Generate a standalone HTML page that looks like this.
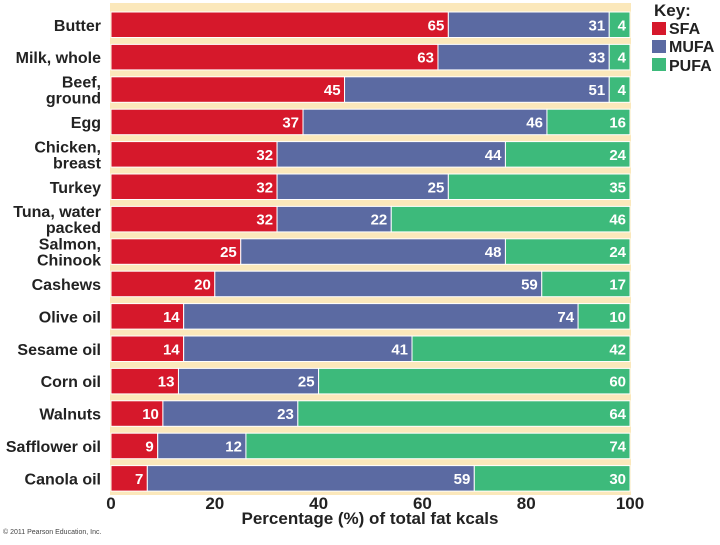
<!DOCTYPE html>
<html><head><meta charset="utf-8"><style>
body{margin:0;background:#fff;width:720px;height:540px;overflow:hidden;font-family:"Liberation Sans",Arial,sans-serif}
</style></head><body>
<svg id="chart" width="720" height="540" xmlns="http://www.w3.org/2000/svg" font-family="Liberation Sans, Arial, sans-serif">
<rect x="110" y="3" width="521" height="492" fill="#fbe8bb"/>
<g id="bars"></g>
<g id="labels"></g>
<g id="xticks"></g>
<text x="370" y="524" text-anchor="middle" font-size="17" font-weight="bold" fill="#222">Percentage (%) of total fat kcals</text>
<text x="3" y="534" font-size="7" fill="#444">© 2011 Pearson Education, Inc.</text>
<g>
<text x="654" y="16" font-size="17" font-weight="bold" fill="#222">Key:</text>
<rect x="652" y="22" width="14" height="13" fill="#d6182b"/>
<text x="669" y="34" font-size="16" font-weight="bold" fill="#222">SFA</text>
<rect x="652" y="40" width="14" height="13" fill="#5b6aa2"/>
<text x="669" y="52" font-size="16" font-weight="bold" fill="#222">MUFA</text>
<rect x="652" y="58" width="14" height="13" fill="#3dba7b"/>
<text x="669" y="71" font-size="16" font-weight="bold" fill="#222">PUFA</text>
</g>
</svg>
<script>
const categories=[["Butter"],["Milk, whole"],["Beef,","ground"],["Egg"],["Chicken,","breast"],["Turkey"],["Tuna, water","packed"],["Salmon,","Chinook"],["Cashews"],["Olive oil"],["Sesame oil"],["Corn oil"],["Walnuts"],["Safflower oil"],["Canola oil"]];
const sfa=[65,63,45,37,32,32,32,25,20,14,14,13,10,9,7];
const mufa=[31,33,51,46,44,25,22,48,59,74,41,25,23,12,59];
const pufa=[4,4,4,16,24,35,46,24,17,10,42,60,64,74,30];
const xTicks=[0,20,40,60,80,100];
const NS="http://www.w3.org/2000/svg";
const X0=111,X1=630;
const x=v=>X0+(X1-X0)*v/100;
const rowTop=i=>12+i*32.4;
const BH=25.5;
const bars=document.getElementById('bars'),labels=document.getElementById('labels'),xt=document.getElementById('xticks');
function mk(tag,attrs,parent){const e=document.createElementNS(NS,tag);for(const k in attrs)e.setAttribute(k,attrs[k]);parent.appendChild(e);return e;}
function seg(nm,i,s,e,col,v){
  const y=rowTop(i);
  const r=mk('rect',{x:x(s),y:y,width:Math.max(0,x(e)-x(s)),height:BH,fill:col,stroke:'#fff','stroke-width':1},bars);
  
  
  const t=mk('text',{x:x(e)-4,y:y+BH/2+5.5,'text-anchor':'end','font-size':15,'font-weight':'bold',fill:'#fff'},bars);
  
  
  t.textContent=v;
}
categories.forEach((c,i)=>{
  const y=rowTop(i);
  const pStart=100-pufa[i];
  seg('sfa',i,0,sfa[i],'#d6182b',sfa[i]);
  seg('mufa',i,sfa[i],pStart,'#5b6aa2',mufa[i]);
  seg('pufa',i,pStart,100,'#3dba7b',pufa[i]);
  const t=mk('text',{x:101,'text-anchor':'end','font-size':16,'font-weight':'bold',fill:'#222'},labels);
  
  
  const cy=y+BH/2;
  c.forEach((ln,j)=>{const s=mk('tspan',{x:101,y:cy+6+(j-(c.length-1)/2)*16},t);s.textContent=ln;});
});
xTicks.forEach(v=>{
  const t=mk('text',{x:x(v),y:509,'text-anchor':'middle','font-size':17,'font-weight':'bold',fill:'#222'},xt);
  
  
  t.textContent=v;
});
</script>
</body></html>
